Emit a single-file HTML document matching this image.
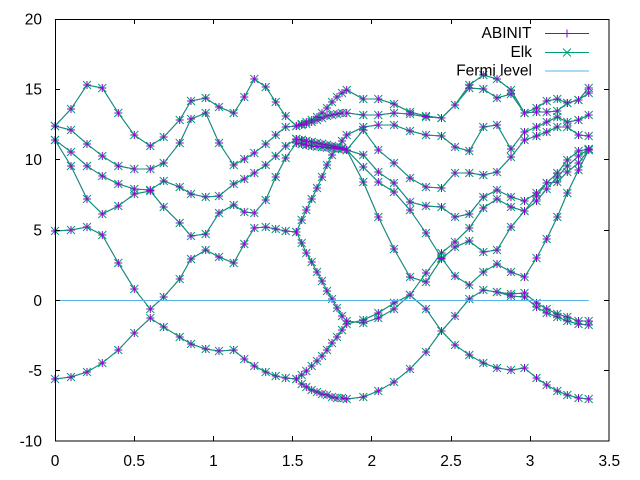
<!DOCTYPE html>
<html><head><meta charset="utf-8"><style>
html,body{margin:0;padding:0;background:#fff;}
svg{display:block;}
text{font-family:"Liberation Sans",Arial,sans-serif;font-size:15.5px;fill:#000;}
</style></head><body>
<svg width="640" height="480" viewBox="0 0 640 480" xmlns="http://www.w3.org/2000/svg">
<defs>
<marker id="mp" markerUnits="userSpaceOnUse" markerWidth="10" markerHeight="10" refX="5" refY="5" style="overflow:visible"><path d="M1,5H9M5,1V9" stroke="#9400d3" stroke-width="1" fill="none"/></marker>
<marker id="mx" markerUnits="userSpaceOnUse" markerWidth="10" markerHeight="10" refX="5" refY="5" style="overflow:visible"><path d="M1,1L9,9M1,9L9,1" stroke="#009e73" stroke-width="1" fill="none"/></marker>
</defs>
<rect width="640" height="480" fill="#fff"/>

<g fill="none" stroke="#9400d3" stroke-width="1">
<polyline points="55,379 71,377 87,372 102.3,363 118.3,350 134.3,333 150.3,318 163.7,327 179.7,337 191,344 205.7,349 219,351 233.7,350 244.3,359 254.3,366 265.7,372 275.7,376 285.7,378 296.3,379 301.7,384 306.3,387 311.7,390 317,392 322,394 327,395 332,397 337,398 342,398 346.7,399 363.3,397 378.3,391 394,382 410,369 426,352 441.5,331 455,316 469.3,299 483.3,290 497,292 511,294 524.5,293 536.5,303 546.7,309 557.3,314 567.3,317 578.5,321 588.7,321"/>
<polyline points="497,292 511,296 524.5,297 536.5,307 546.7,313 557.3,317 567.3,321 578.5,324 588.7,325"/>
<polyline points="296.3,379 301.7,375 306.3,371 311.7,366 317,361 322,356 327,350 332,343 337,337 342,330 346.7,324 363.3,320 378.3,313 394,303 410,295 426,273 441.5,253 455,242 469.3,228 483.3,208 497,199 511,207 524.5,211 536.5,196 546.7,183 557.3,182 567.3,172 578.5,163 588.7,150"/>
<polyline points="55,231 71,230 87,227 102.3,235 118.3,263 134.3,289 150.3,309 163.7,297 179.7,279 191,259 205.7,250 219,257 233.7,263 244.3,244 254.3,228 265.7,227 275.7,229 285.7,231 296.3,232 301.7,243 306.3,253 311.7,262 317,272 322,281 327,291 332,299 337,308 342,316 346.7,321 363.3,323 378.3,318 394,309 410,295 426,309 441.5,331 455,345 469.3,355 483.3,363 497,368 511,370 524.5,368 536.5,378 546.7,385 557.3,391 567.3,395 578.5,398 588.7,399"/>
<polyline points="296.3,232 301.7,220 306.3,210 311.7,199 317,188 322,177 327,165 332,155 337,148 342,141 346.7,135 363.3,127 378.3,125 394,125 410,131 426,135 441.5,136 455,147 469.3,151 483.3,127 497,125 511,149 524.5,132 536.5,127 546.7,122 557.3,117 567.3,122 578.5,120 588.7,115"/>
<polyline points="55,140 71,166 87,199 102.3,214 118.3,206 134.3,194 150.3,191 163.7,207 179.7,223 191,236 205.7,234 219,213 233.7,205 244.3,212 254.3,213 265.7,200 275.7,177 285.7,158 296.3,143 301.7,144 306.3,145 311.7,146 317,146.5 322,147 327,147.5 332,148 337,148.5 342,149 346.7,150 363.3,182 378.3,217 394,249 410,277 426,282 441.5,259 455,247 469.3,241 483.3,252 497,250 511,227 524.5,211 536.5,201 546.7,189 557.3,177 567.3,166 578.5,156 588.7,149"/>
<polyline points="55,140 71,152 87,166 102.3,176 118.3,184 134.3,189 150.3,190 163.7,181 179.7,187 191,194 205.7,197 219,196 233.7,184 244.3,179 254.3,173 265.7,165 275.7,156 285.7,146 296.3,139 301.7,140 306.3,141 311.7,142 317,143 322,144 327,145 332,146 337,147 342,148 346.7,150 363.3,167 378.3,182 394,192 410,210 426,233 441.5,258 455,276 469.3,285 483.3,272 497,264 511,272 524.5,277 536.5,258 546.7,239 557.3,217 567.3,193 578.5,170 588.7,150"/>
<polyline points="55,126 71,109 87,85 102.3,88 118.3,113 134.3,135 150.3,146 163.7,137 179.7,120 191,101 205.7,98 219,107 233.7,113 244.3,97 254.3,79 265.7,87 275.7,102 285.7,116 296.3,126 301.7,124 306.3,122 311.7,120 317,117 322,113 327,108 332,102 337,97 342,93 346.7,90 363.3,99 378.3,99 394,104 410,112 426,116 441.5,118 455,105 469.3,85 483.3,75 497,79 511,90 524.5,113 536.5,108 546.7,101 557.3,99 567.3,103 578.5,100 588.7,88"/>
<polyline points="55,126 71,130 87,144 102.3,156 118.3,166 134.3,169 150.3,169 163.7,163 179.7,143 191,119 205.7,113 219,143 233.7,165 244.3,159 254.3,153 265.7,144 275.7,135 285.7,127 296.3,126 301.7,125 306.3,124 311.7,122 317,120 322,118 327,116 332,115 337,114 342,113 346.7,113 363.3,115 378.3,115 394,113 410,114 426,117 441.5,118 455,105 469.3,88 483.3,89 497,98 511,94 524.5,113 536.5,112 546.7,112 557.3,111 567.3,103 578.5,100 588.7,93"/>
<polyline points="296.3,139 301.7,140 306.3,141 311.7,142 317,143 322,144 327,145 332,146 337,147 342,148 346.7,150 363.3,130 378.3,150 394,163 410,178 426,187 441.5,188 455,173 469.3,173 483.3,175 497,172 511,157 524.5,140 536.5,136 546.7,132 557.3,127 567.3,127 578.5,135 588.7,136"/>
<polyline points="296.3,143 301.7,144 306.3,145 311.7,146 317,146.5 322,147 327,147.5 332,148 337,148.5 342,149 346.7,150 363.3,155 378.3,172 394,183 410,202 426,206 441.5,207 455,217 469.3,214 483.3,197 497,190 511,197 524.5,201 536.5,193 546.7,183 557.3,173 567.3,160 578.5,151 588.7,149"/>
</g>

<g fill="none" stroke="#009e73" stroke-width="1" marker-start="url(#mx)" marker-mid="url(#mx)" marker-end="url(#mx)">
<polyline points="55,379 71,377 87,372 102.3,363 118.3,350 134.3,333 150.3,318 163.7,327 179.7,337 191,344 205.7,349 219,351 233.7,350 244.3,359 254.3,366 265.7,372 275.7,376 285.7,378 296.3,379 301.7,384 306.3,387 311.7,390 317,392 322,394 327,395 332,397 337,398 342,398 346.7,399 363.3,397 378.3,391 394,382 410,369 426,352 441.5,331 455,316 469.3,299 483.3,290 497,292 511,294 524.5,293 536.5,303 546.7,309 557.3,314 567.3,317 578.5,321 588.7,321"/>
<polyline points="497,292 511,296 524.5,297 536.5,307 546.7,313 557.3,317 567.3,321 578.5,324 588.7,325"/>
<polyline points="296.3,379 301.7,375 306.3,371 311.7,366 317,361 322,356 327,350 332,343 337,337 342,330 346.7,324 363.3,320 378.3,313 394,303 410,295 426,273 441.5,253 455,242 469.3,228 483.3,208 497,199 511,207 524.5,211 536.5,196 546.7,183 557.3,182 567.3,172 578.5,163 588.7,150"/>
<polyline points="55,231 71,230 87,227 102.3,235 118.3,263 134.3,289 150.3,309 163.7,297 179.7,279 191,259 205.7,250 219,257 233.7,263 244.3,244 254.3,228 265.7,227 275.7,229 285.7,231 296.3,232 301.7,243 306.3,253 311.7,262 317,272 322,281 327,291 332,299 337,308 342,316 346.7,321 363.3,323 378.3,318 394,309 410,295 426,309 441.5,331 455,345 469.3,355 483.3,363 497,368 511,370 524.5,368 536.5,378 546.7,385 557.3,391 567.3,395 578.5,398 588.7,399"/>
<polyline points="296.3,232 301.7,220 306.3,210 311.7,199 317,188 322,177 327,165 332,155 337,148 342,141 346.7,135 363.3,127 378.3,125 394,125 410,131 426,135 441.5,136 455,147 469.3,151 483.3,127 497,125 511,149 524.5,132 536.5,127 546.7,122 557.3,117 567.3,122 578.5,120 588.7,115"/>
<polyline points="55,140 71,166 87,199 102.3,214 118.3,206 134.3,194 150.3,191 163.7,207 179.7,223 191,236 205.7,234 219,213 233.7,205 244.3,212 254.3,213 265.7,200 275.7,177 285.7,158 296.3,143 301.7,144 306.3,145 311.7,146 317,146.5 322,147 327,147.5 332,148 337,148.5 342,149 346.7,150 363.3,182 378.3,217 394,249 410,277 426,282 441.5,259 455,247 469.3,241 483.3,252 497,250 511,227 524.5,211 536.5,201 546.7,189 557.3,177 567.3,166 578.5,156 588.7,149"/>
<polyline points="55,140 71,152 87,166 102.3,176 118.3,184 134.3,189 150.3,190 163.7,181 179.7,187 191,194 205.7,197 219,196 233.7,184 244.3,179 254.3,173 265.7,165 275.7,156 285.7,146 296.3,139 301.7,140 306.3,141 311.7,142 317,143 322,144 327,145 332,146 337,147 342,148 346.7,150 363.3,167 378.3,182 394,192 410,210 426,233 441.5,258 455,276 469.3,285 483.3,272 497,264 511,272 524.5,277 536.5,258 546.7,239 557.3,217 567.3,193 578.5,170 588.7,150"/>
<polyline points="55,126 71,109 87,85 102.3,88 118.3,113 134.3,135 150.3,146 163.7,137 179.7,120 191,101 205.7,98 219,107 233.7,113 244.3,97 254.3,79 265.7,87 275.7,102 285.7,116 296.3,126 301.7,124 306.3,122 311.7,120 317,117 322,113 327,108 332,102 337,97 342,93 346.7,90 363.3,99 378.3,99 394,104 410,112 426,116 441.5,118 455,105 469.3,85 483.3,75 497,79 511,90 524.5,113 536.5,108 546.7,101 557.3,99 567.3,103 578.5,100 588.7,88"/>
<polyline points="55,126 71,130 87,144 102.3,156 118.3,166 134.3,169 150.3,169 163.7,163 179.7,143 191,119 205.7,113 219,143 233.7,165 244.3,159 254.3,153 265.7,144 275.7,135 285.7,127 296.3,126 301.7,125 306.3,124 311.7,122 317,120 322,118 327,116 332,115 337,114 342,113 346.7,113 363.3,115 378.3,115 394,113 410,114 426,117 441.5,118 455,105 469.3,88 483.3,89 497,98 511,94 524.5,113 536.5,112 546.7,112 557.3,111 567.3,103 578.5,100 588.7,93"/>
<polyline points="296.3,139 301.7,140 306.3,141 311.7,142 317,143 322,144 327,145 332,146 337,147 342,148 346.7,150 363.3,130 378.3,150 394,163 410,178 426,187 441.5,188 455,173 469.3,173 483.3,175 497,172 511,157 524.5,140 536.5,136 546.7,132 557.3,127 567.3,127 578.5,135 588.7,136"/>
<polyline points="296.3,143 301.7,144 306.3,145 311.7,146 317,146.5 322,147 327,147.5 332,148 337,148.5 342,149 346.7,150 363.3,155 378.3,172 394,183 410,202 426,206 441.5,207 455,217 469.3,214 483.3,197 497,190 511,197 524.5,201 536.5,193 546.7,183 557.3,173 567.3,160 578.5,151 588.7,149"/>
</g>

<g fill="none" stroke="none" marker-start="url(#mp)" marker-mid="url(#mp)" marker-end="url(#mp)">
<polyline points="55,379 71,377 87,372 102.3,363 118.3,350 134.3,333 150.3,318 163.7,327 179.7,337 191,344 205.7,349 219,351 233.7,350 244.3,359 254.3,366 265.7,372 275.7,376 285.7,378 296.3,379 301.7,384 306.3,387 311.7,390 317,392 322,394 327,395 332,397 337,398 342,398 346.7,399 363.3,397 378.3,391 394,382 410,369 426,352 441.5,331 455,316 469.3,299 483.3,290 497,292 511,294 524.5,293 536.5,303 546.7,309 557.3,314 567.3,317 578.5,321 588.7,321"/>
<polyline points="497,292 511,296 524.5,297 536.5,307 546.7,313 557.3,317 567.3,321 578.5,324 588.7,325"/>
<polyline points="296.3,379 301.7,375 306.3,371 311.7,366 317,361 322,356 327,350 332,343 337,337 342,330 346.7,324 363.3,320 378.3,313 394,303 410,295 426,273 441.5,253 455,242 469.3,228 483.3,208 497,199 511,207 524.5,211 536.5,196 546.7,183 557.3,182 567.3,172 578.5,163 588.7,150"/>
<polyline points="55,231 71,230 87,227 102.3,235 118.3,263 134.3,289 150.3,309 163.7,297 179.7,279 191,259 205.7,250 219,257 233.7,263 244.3,244 254.3,228 265.7,227 275.7,229 285.7,231 296.3,232 301.7,243 306.3,253 311.7,262 317,272 322,281 327,291 332,299 337,308 342,316 346.7,321 363.3,323 378.3,318 394,309 410,295 426,309 441.5,331 455,345 469.3,355 483.3,363 497,368 511,370 524.5,368 536.5,378 546.7,385 557.3,391 567.3,395 578.5,398 588.7,399"/>
<polyline points="296.3,232 301.7,220 306.3,210 311.7,199 317,188 322,177 327,165 332,155 337,148 342,141 346.7,135 363.3,127 378.3,125 394,125 410,131 426,135 441.5,136 455,147 469.3,151 483.3,127 497,125 511,149 524.5,132 536.5,127 546.7,122 557.3,117 567.3,122 578.5,120 588.7,115"/>
<polyline points="55,140 71,166 87,199 102.3,214 118.3,206 134.3,194 150.3,191 163.7,207 179.7,223 191,236 205.7,234 219,213 233.7,205 244.3,212 254.3,213 265.7,200 275.7,177 285.7,158 296.3,143 301.7,144 306.3,145 311.7,146 317,146.5 322,147 327,147.5 332,148 337,148.5 342,149 346.7,150 363.3,182 378.3,217 394,249 410,277 426,282 441.5,259 455,247 469.3,241 483.3,252 497,250 511,227 524.5,211 536.5,201 546.7,189 557.3,177 567.3,166 578.5,156 588.7,149"/>
<polyline points="55,140 71,152 87,166 102.3,176 118.3,184 134.3,189 150.3,190 163.7,181 179.7,187 191,194 205.7,197 219,196 233.7,184 244.3,179 254.3,173 265.7,165 275.7,156 285.7,146 296.3,139 301.7,140 306.3,141 311.7,142 317,143 322,144 327,145 332,146 337,147 342,148 346.7,150 363.3,167 378.3,182 394,192 410,210 426,233 441.5,258 455,276 469.3,285 483.3,272 497,264 511,272 524.5,277 536.5,258 546.7,239 557.3,217 567.3,193 578.5,170 588.7,150"/>
<polyline points="55,126 71,109 87,85 102.3,88 118.3,113 134.3,135 150.3,146 163.7,137 179.7,120 191,101 205.7,98 219,107 233.7,113 244.3,97 254.3,79 265.7,87 275.7,102 285.7,116 296.3,126 301.7,124 306.3,122 311.7,120 317,117 322,113 327,108 332,102 337,97 342,93 346.7,90 363.3,99 378.3,99 394,104 410,112 426,116 441.5,118 455,105 469.3,85 483.3,75 497,79 511,90 524.5,113 536.5,108 546.7,101 557.3,99 567.3,103 578.5,100 588.7,88"/>
<polyline points="55,126 71,130 87,144 102.3,156 118.3,166 134.3,169 150.3,169 163.7,163 179.7,143 191,119 205.7,113 219,143 233.7,165 244.3,159 254.3,153 265.7,144 275.7,135 285.7,127 296.3,126 301.7,125 306.3,124 311.7,122 317,120 322,118 327,116 332,115 337,114 342,113 346.7,113 363.3,115 378.3,115 394,113 410,114 426,117 441.5,118 455,105 469.3,88 483.3,89 497,98 511,94 524.5,113 536.5,112 546.7,112 557.3,111 567.3,103 578.5,100 588.7,93"/>
<polyline points="296.3,139 301.7,140 306.3,141 311.7,142 317,143 322,144 327,145 332,146 337,147 342,148 346.7,150 363.3,130 378.3,150 394,163 410,178 426,187 441.5,188 455,173 469.3,173 483.3,175 497,172 511,157 524.5,140 536.5,136 546.7,132 557.3,127 567.3,127 578.5,135 588.7,136"/>
<polyline points="296.3,143 301.7,144 306.3,145 311.7,146 317,146.5 322,147 327,147.5 332,148 337,148.5 342,149 346.7,150 363.3,155 378.3,172 394,183 410,202 426,206 441.5,207 455,217 469.3,214 483.3,197 497,190 511,197 524.5,201 536.5,193 546.7,183 557.3,173 567.3,160 578.5,151 588.7,149"/>
</g>

<!-- Fermi level -->
<line x1="55" y1="300.5" x2="588.7" y2="300.5" stroke="#56b4e9" stroke-width="1"/>

<!-- frame and ticks -->
<g stroke="#000" stroke-width="1" fill="none">
<rect x="55.5" y="19.5" width="553.5" height="421.5"/>
<path d="M55,370.5h5M55,300.5h5M55,230.5h5M55,159.5h5M55,89.5h5
M609,370.5h-5M609,300.5h-5M609,230.5h-5M609,159.5h-5M609,89.5h-5
M134.5,441v-5M213.5,441v-5M292.5,441v-5M371.5,441v-5M451.5,441v-5M530.5,441v-5
M134.5,19v5M213.5,19v5M292.5,19v5M371.5,19v5M451.5,19v5M530.5,19v5"/>
</g>

<!-- y tick labels -->
<g text-anchor="end">
<text x="42" y="24.5">20</text>
<text x="42" y="94.5">15</text>
<text x="42" y="165">10</text>
<text x="42" y="235.5">5</text>
<text x="42" y="306">0</text>
<text x="42" y="376">-5</text>
<text x="42" y="446.5">-10</text>
</g>
<!-- x tick labels -->
<g text-anchor="middle">
<text x="55" y="466">0</text>
<text x="134.2" y="466">0.5</text>
<text x="213.4" y="466">1</text>
<text x="292.6" y="466">1.5</text>
<text x="371.8" y="466">2</text>
<text x="451" y="466">2.5</text>
<text x="530.1" y="466">3</text>
<text x="609.3" y="466">3.5</text>
</g>

<!-- legend -->
<g text-anchor="end">
<text x="531.5" y="37.8">ABINIT</text>
<text x="532" y="56.8">Elk</text>
<text x="532" y="75.5">Fermi level</text>
</g>
<line x1="545" y1="33.5" x2="589" y2="33.5" stroke="#9400d3" stroke-width="1"/>
<path d="M563,33.5h8M567,29.5v8" stroke="#9400d3" stroke-width="1"/>
<line x1="545" y1="52.5" x2="589" y2="52.5" stroke="#009e73" stroke-width="1"/>
<path d="M563,48.5l8,8M563,56.5l8,-8" stroke="#009e73" stroke-width="1"/>
<line x1="545" y1="71" x2="589" y2="71" stroke="#56b4e9" stroke-width="1"/>
</svg>
</body></html>
